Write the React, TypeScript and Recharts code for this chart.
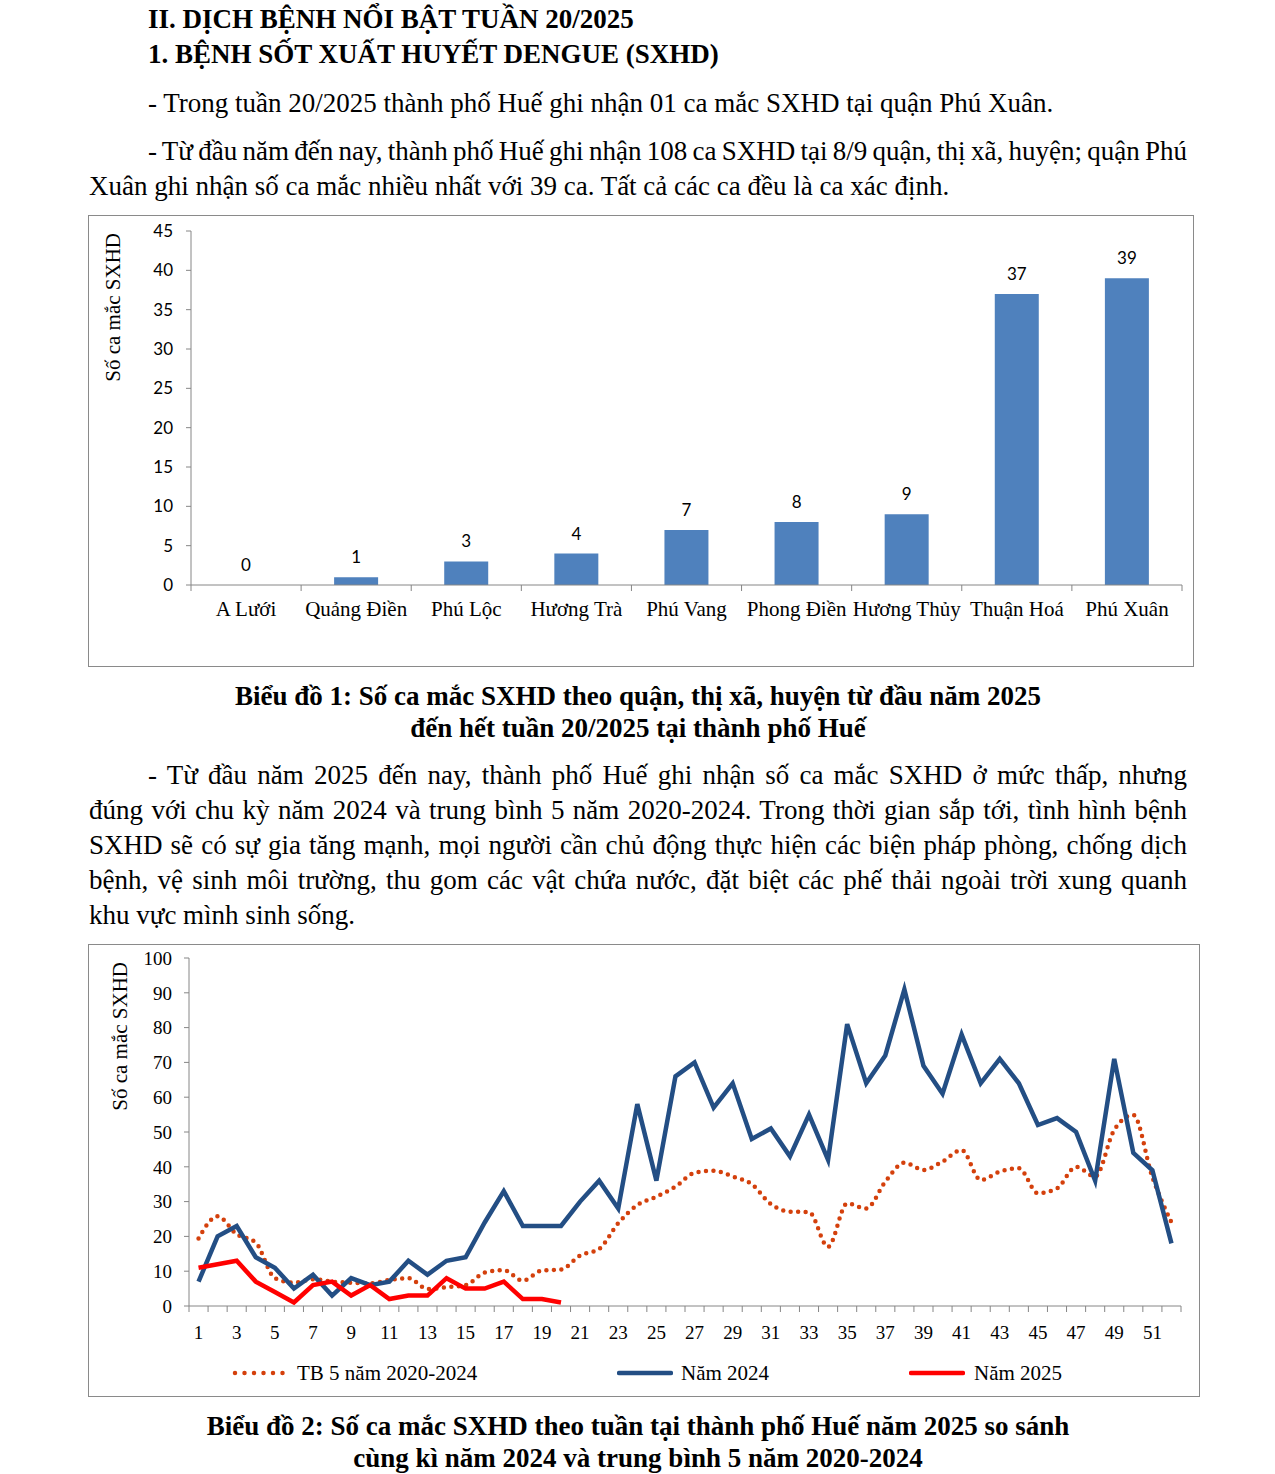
import React from 'react';
import { ComposedChart, Bar, XAxis, YAxis, LabelList, LineChart, Line, Legend } from 'recharts';

// ---------- Chart 1 data ----------
const districts = ['A Lưới', 'Quảng Điền', 'Phú Lộc', 'Hương Trà', 'Phú Vang', 'Phong Điền', 'Hương Thủy', 'Thuận Hoá', 'Phú Xuân'];
const districtCases = [0, 1, 3, 4, 7, 8, 9, 37, 39];
const barYTicks = [0, 5, 10, 15, 20, 25, 30, 35, 40, 45];

// ---------- Chart 2 data ----------
const weeks = [1, 2, 3, 4, 5, 6, 7, 8, 9, 10, 11, 12, 13, 14, 15, 16, 17, 18, 19, 20, 21, 22, 23, 24, 25, 26,
  27, 28, 29, 30, 31, 32, 33, 34, 35, 36, 37, 38, 39, 40, 41, 42, 43, 44, 45, 46, 47, 48, 49, 50, 51, 52];
const avg5y = [19.4, 25.8, 20.6, 18.2, 8, 6.7, 7.7, 7, 6.7, 6.5, 7.5, 8, 4.9, 5.4, 6, 9.6, 10.3, 7.3, 10.2, 10.5,
  14.5, 16.4, 23.8, 29, 31.4, 34.3, 38.3, 38.9, 37.2, 35, 29.3, 27.1, 27, 17, 29.5, 28, 35.7, 41.2, 39.1, 41.5,
  44.8, 36.2, 38.6, 39.6, 32.4, 33.8, 40, 37.2, 50.6, 54.9, 37, 24];
const y2024 = [7, 20, 23, 14, 11, 5, 9, 3, 8, 6, 7, 13, 9, 13, 14, 24, 33, 23, 23, 23, 30, 36, 28, 58, 36, 66,
  70, 57, 64, 48, 51, 43, 55, 42, 81, 64, 72, 91, 69, 61, 78, 64, 71, 64, 52, 54, 50, 36, 71, 44, 39, 18];
const y2025 = [11, 12, 13, 7, 4, 1, 6, 7, 3, 6, 2, 3, 3, 8, 5, 5, 7, 2, 2, 1];
const lineYTicks = [0, 10, 20, 30, 40, 50, 60, 70, 80, 90, 100];

const barData = districts.map((d, i) => ({ name: d, value: districtCases[i] }));
const lineData = weeks.map((w, i) => ({ week: w, avg: avg5y[i], y2024: y2024[i], y2025: y2025[i] }));

const SERIF = '"Times New Roman", "Liberation Serif", serif';
const SANS = 'Lato, "Open Sans", sans-serif';
const AXIS = '#868686';
const BAR = '#4F81BD';
const DOT = '#D4400C';
const BLUE = '#234E84';
const RED = '#FF0000';
const FS = 27;

const series = [
  { key: 'avg', name: 'TB 5 năm 2020-2024', color: DOT, dotted: true, left: 143, textLeft: 208 },
  { key: 'y2024', name: 'Năm 2024', color: BLUE, dotted: false, left: 528, textLeft: 592 },
  { key: 'y2025', name: 'Năm 2025', color: RED, dotted: false, left: 820, textLeft: 885 },
];

const TextLine = ({ top, text, bold, justify, center, indent, left, width }: any) => (
  <div
    style={{
      position: 'absolute',
      top,
      left: left ?? 89,
      width: width ?? 1098,
      boxSizing: 'border-box',
      paddingLeft: indent ? 59 : 0,
      fontFamily: SERIF,
      fontSize: FS,
      lineHeight: '35px',
      fontWeight: bold ? 700 : 400,
      color: '#000',
      wordSpacing: justify ? -4 : 0,
      textAlign: center ? 'center' : justify ? 'justify' : 'left',
      textAlignLast: center ? 'center' : justify ? 'justify' : 'left',
      whiteSpace: justify ? 'normal' : 'nowrap',
    } as React.CSSProperties}
  >
    {text}
  </div>
);

const BarXTick = (props: any) => {
  const { x, y, payload, index, width } = props;
  const band = (width || 991) / districts.length;
  return (
    <g>
      <line x1={x - band / 2} x2={x - band / 2} y1={y} y2={y + 6} stroke={AXIS} />
      {index === districts.length - 1 && (
        <line x1={x + band / 2} x2={x + band / 2} y1={y} y2={y + 6} stroke={AXIS} />
      )}
      <text x={x} y={y + 31} textAnchor="middle" fill="#000" fontFamily={SERIF} fontSize={21}>
        {payload.value}
      </text>
    </g>
  );
};

const LineXTick = (props: any) => {
  const { x, y, payload, index, width } = props;
  const band = (width || 992) / weeks.length;
  return (
    <g>
      <line x1={x - band / 2} x2={x - band / 2} y1={y} y2={y + 6} stroke={AXIS} />
      {index === weeks.length - 1 && (
        <line x1={x + band / 2} x2={x + band / 2} y1={y} y2={y + 6} stroke={AXIS} />
      )}
      {payload.value % 2 === 1 && (
        <text x={x} y={y + 33} textAnchor="middle" fill="#000" fontFamily={SERIF} fontSize={19}>
          {payload.value}
        </text>
      )}
    </g>
  );
};

const YTitle = (dx: number, dy: number) => (props: any) => {
  const vb = props.viewBox || { x: 0, y: 0 };
  const x = vb.x + dx;
  const y = vb.y + dy;
  return (
    <text
      x={x}
      y={y}
      transform={`rotate(-90, ${x}, ${y})`}
      textAnchor="end"
      dominantBaseline="central"
      fontFamily={SERIF}
      fontSize={21}
      fill="#000"
    >
      Số ca mắc SXHD
    </text>
  );
};

const LegendContent = () => (
  <div style={{ position: 'relative', height: 30, width: 1092 }}>
    {series.map((s) => (
      <React.Fragment key={s.key}>
        <svg style={{ position: 'absolute', left: s.left, top: 0 }} width={56} height={30}>
          {s.dotted ? (
            <line x1={3} x2={53} y1={15} y2={15} stroke={s.color} strokeWidth={4.5} strokeLinecap="round" strokeDasharray="0 9.5" />
          ) : (
            <line x1={2} x2={54} y1={15} y2={15} stroke={s.color} strokeWidth={4.5} strokeLinecap="round" />
          )}
        </svg>
        <span
          style={{
            position: 'absolute',
            left: s.textLeft,
            top: 0,
            lineHeight: '30px',
            fontFamily: SERIF,
            fontSize: 21,
            color: '#000',
            whiteSpace: 'nowrap',
          }}
        >
          {s.name}
        </span>
      </React.Fragment>
    ))}
  </div>
);

export default function App() {
  return (
    <div style={{ position: 'absolute', left: 0, top: 0, width: 1275, height: 1474, background: '#fff', overflow: 'hidden' }}>
      <div style={{ position: 'absolute', left: 148, top: 2, fontFamily: SERIF, fontSize: FS, lineHeight: '35px', fontWeight: 700, whiteSpace: 'nowrap' }}>
        II. DỊCH BỆNH NỔI BẬT TUẦN 20/2025
      </div>
      <div style={{ position: 'absolute', left: 148, top: 37, fontFamily: SERIF, fontSize: FS, lineHeight: '35px', fontWeight: 700, whiteSpace: 'nowrap' }}>
        1. BỆNH SỐT XUẤT HUYẾT DENGUE (SXHD)
      </div>
      <TextLine top={86} indent text="- Trong tuần 20/2025 thành phố Huế ghi nhận 01 ca mắc SXHD tại quận Phú Xuân." />
      <TextLine top={134} indent justify text="- Từ đầu năm đến nay, thành phố Huế ghi nhận 108 ca SXHD tại 8/9 quận, thị xã, huyện; quận Phú" />
      <TextLine top={169} text="Xuân ghi nhận số ca mắc nhiều nhất với 39 ca. Tất cả các ca đều là ca xác định." />

      <div style={{ position: 'absolute', left: 88, top: 215, width: 1104, height: 450, border: '1px solid #8a8a8a' }}>
        <ComposedChart width={1104} height={450} data={barData} margin={{ top: 15, right: 11, left: 0, bottom: 41 }}>
          <YAxis
            width={102}
            domain={[0, 45]}
            ticks={barYTicks}
            interval={0}
            axisLine={{ stroke: AXIS }}
            tickLine={{ stroke: AXIS }}
            tickSize={5}
            tickMargin={13}
            tick={{ fill: '#000', fontSize: 17, fontFamily: SANS }}
            label={YTitle(24, 2)}
          />
          <XAxis
            dataKey="name"
            height={40}
            interval={0}
            axisLine={{ stroke: AXIS }}
            tickLine={false}
            tickSize={0}
            tickMargin={0}
            tick={<BarXTick />}
          />
          <Bar dataKey="value" fill={BAR} barSize={44} isAnimationActive={false} />
          <Line
            dataKey="value"
            stroke="none"
            dot={false}
            activeDot={false}
            legendType="none"
            isAnimationActive={false}
          >
            <LabelList dataKey="value" position="top" offset={14} fill="#000" fontSize={17} fontFamily={SANS} />
          </Line>
        </ComposedChart>
      </div>

      <TextLine top={679} bold center text="Biểu đồ 1: Số ca mắc SXHD theo quận, thị xã, huyện từ đầu năm 2025" />
      <TextLine top={711} bold center text="đến hết tuần 20/2025 tại thành phố Huế" />

      <TextLine top={758} indent justify text="- Từ đầu năm 2025 đến nay, thành phố Huế ghi nhận số ca mắc SXHD ở mức thấp, nhưng" />
      <TextLine top={793} justify text="đúng với chu kỳ năm 2024 và trung bình 5 năm 2020-2024. Trong thời gian sắp tới, tình hình bệnh" />
      <TextLine top={828} justify text="SXHD sẽ có sự gia tăng mạnh, mọi người cần chủ động thực hiện các biện pháp phòng, chống dịch" />
      <TextLine top={863} justify text="bệnh, vệ sinh môi trường, thu gom các vật chứa nước, đặt biệt các phế thải ngoài trời xung quanh" />
      <TextLine top={898} text="khu vực mình sinh sống." />

      <div style={{ position: 'absolute', left: 88, top: 944, width: 1110, height: 451, border: '1px solid #8a8a8a' }}>
        <LineChart width={1110} height={451} data={lineData} margin={{ top: 13, right: 18, left: 0, bottom: 8 }}>
          <YAxis
            width={100}
            domain={[0, 100]}
            ticks={lineYTicks}
            interval={0}
            axisLine={{ stroke: AXIS }}
            tickLine={{ stroke: AXIS }}
            tickSize={5}
            tickMargin={12}
            tick={{ fill: '#000', fontSize: 19, fontFamily: SERIF }}
            label={YTitle(31, 4)}
          />
          <XAxis
            dataKey="week"
            scale="band"
            height={52}
            interval={0}
            axisLine={{ stroke: AXIS }}
            tickLine={false}
            tickSize={0}
            tickMargin={0}
            tick={<LineXTick />}
          />
          <Legend verticalAlign="bottom" height={30} content={<LegendContent />} />
          <Line
            dataKey="avg"
            name={series[0].name}
            type="monotone"
            stroke={DOT}
            strokeWidth={4.5}
            strokeLinecap="round"
            strokeDasharray="0 7.5"
            dot={false}
            activeDot={false}
            isAnimationActive={false}
          />
          <Line
            dataKey="y2024"
            name={series[1].name}
            type="linear"
            stroke={BLUE}
            strokeWidth={4.5}
            dot={false}
            activeDot={false}
            isAnimationActive={false}
          />
          <Line
            dataKey="y2025"
            name={series[2].name}
            type="linear"
            stroke={RED}
            strokeWidth={4.5}
            dot={false}
            activeDot={false}
            isAnimationActive={false}
          />
        </LineChart>
      </div>

      <TextLine top={1409} bold center text="Biểu đồ 2: Số ca mắc SXHD theo tuần tại thành phố Huế năm 2025 so sánh" />
      <TextLine top={1441} bold center text="cùng kì năm 2024 và trung bình 5 năm 2020-2024" />
    </div>
  );
}
